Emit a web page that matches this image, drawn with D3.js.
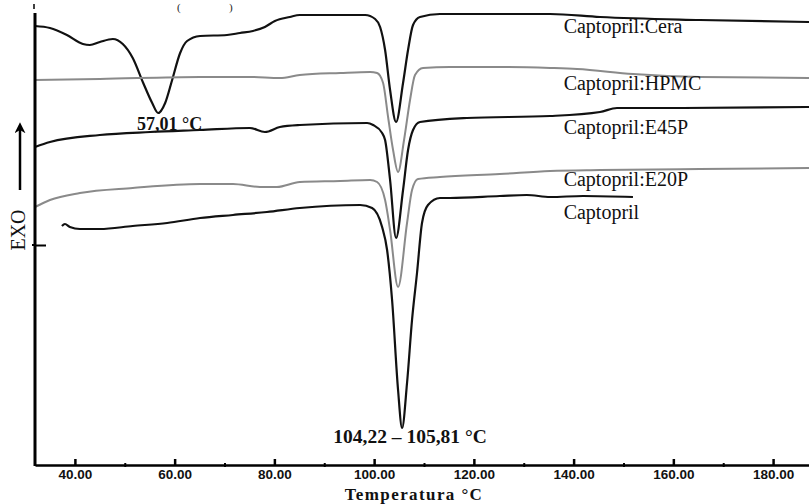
<!DOCTYPE html>
<html>
<head>
<meta charset="utf-8">
<script src="https://cdn.jsdelivr.net/npm/d3@7"></script>
<style>
  html, body { margin: 0; padding: 0; background: #fff; }
  svg { display: block; }
</style>
</head>
<body>
<svg id="chart" width="809" height="504"></svg>
<script>
// ---- Data (temperature °C, heat flow in arbitrary units) ----
const xTicks = [40, 60, 80, 100, 120, 140, 160, 180];
const xMinorTicks = [50, 70, 90, 110, 130, 150, 170];
const yTicks = [22];

const seriesNames = ["Captopril:Cera", "Captopril:HPMC", "Captopril:E45P", "Captopril:E20P", "Captopril"];
const seriesColors = ["#111111", "#8a8a8a", "#111111", "#8a8a8a", "#111111"];

const ceraT = [32.0, 35.0, 38.4, 41.6, 43.0, 45.0, 47.6, 49.6, 51.6, 53.7, 55.5, 56.7, 58.1, 59.5, 61.1, 62.5, 65.1, 70.5, 73.1, 75.7, 78.1, 80.1, 83.1, 85.1, 93.2, 98.2, 100.2, 101.2, 102.2, 103.2, 104.4, 105.8, 106.8, 107.8, 109.2, 113.2, 135.3, 145.3, 165.3, 187.2];
const ceraV = [43.9, 43.7, 43.0, 42.1, 42.0, 42.3, 42.6, 42.1, 40.7, 38.2, 36.2, 35.2, 36.2, 38.5, 41.2, 42.4, 42.9, 43.0, 43.2, 43.4, 43.8, 44.4, 44.8, 45.0, 45.0, 45.0, 44.6, 43.8, 41.5, 37.5, 34.3, 38.2, 41.5, 44.0, 44.8, 45.1, 45.1, 44.8, 44.5, 44.3];

const hpmcT = [32.0, 45.0, 65.1, 75.1, 81.1, 85.1, 93.2, 99.2, 100.6, 101.8, 102.8, 103.8, 104.8, 106.0, 107.2, 108.2, 109.8, 115.2, 125.2, 135.3, 140.7, 151.9, 165.3, 187.2];
const hpmcV = [38.5, 38.6, 38.8, 38.8, 38.7, 39.0, 39.2, 39.3, 39.2, 38.2, 34.8, 31.5, 29.3, 32.5, 36.5, 39.0, 39.7, 39.8, 39.8, 39.7, 39.6, 39.1, 38.8, 38.7];

const e45pT = [32.0, 35.0, 45.0, 55.1, 65.1, 75.1, 78.1, 81.1, 85.1, 98.6, 99.8, 101.6, 102.2, 103.2, 104.4, 105.8, 106.8, 107.8, 109.2, 118.6, 135.3, 145.3, 148.7, 161.9, 187.2];
const e45pV = [31.8, 32.3, 33.0, 33.3, 33.5, 33.7, 33.3, 33.8, 34.0, 34.2, 34.0, 33.2, 32.5, 28.5, 22.7, 27.5, 31.5, 33.5, 34.3, 34.7, 34.9, 35.3, 35.7, 35.7, 35.8];

const e20pT = [32.0, 35.0, 41.0, 51.6, 65.1, 71.7, 77.1, 80.5, 85.1, 93.2, 99.2, 100.6, 102.2, 103.2, 104.8, 106.6, 107.6, 108.8, 113.2, 125.2, 135.3, 145.3, 165.3, 187.2];
const e20pV = [25.8, 26.5, 27.2, 27.7, 28.1, 28.1, 27.8, 27.8, 28.3, 28.4, 28.5, 28.3, 26.5, 23.5, 17.8, 24.2, 27.5, 28.6, 28.8, 29.1, 29.4, 29.5, 29.6, 29.7];

const captoT = [37.4, 38.0, 39.0, 41.0, 45.0, 51.6, 58.5, 65.1, 71.7, 78.5, 85.1, 97.2, 99.6, 101.6, 102.6, 103.6, 104.8, 105.6, 106.6, 107.6, 108.6, 109.6, 110.8, 113.2, 115.2, 125.2, 130.6, 135.3, 141.9, 151.9];
const captoV = [23.9, 24.1, 23.8, 23.6, 23.6, 23.9, 24.2, 24.7, 25.0, 25.3, 25.7, 26.0, 25.7, 23.8, 21.5, 16.5, 7.5, 3.7, 8.2, 14.5, 19.2, 24.2, 26.0, 26.7, 26.7, 26.9, 27.0, 26.8, 26.9, 26.8];

// label anchor values (temperature, heat-flow) for the series names
const labelT = [138.0, 138.0, 138.0, 138.0, 138.0];
const labelV = [43.2, 37.5, 33.1, 27.9, 24.6];

// annotations
const peakLabels = ["57,01 °C", "104,22 – 105,81 °C"];
const peakLabelT = [59.0, 107.2];
const peakLabelV = [33.5, 2.2];

const xTitle = "Temperatura °C";
const yTitle = "EXO";

// ---- Build ----
const svg = d3.select("#chart");

const x = d3.scaleLinear().domain([32, 187.2]).range([35, 809]);
const y = d3.scaleLinear().domain([0, 46]).range([465, 5]);

const serif = '"Liberation Serif", "Times New Roman", serif';
const sans = '"Liberation Sans", Arial, sans-serif';

const allT = [ceraT, hpmcT, e45pT, e20pT, captoT];
const allV = [ceraV, hpmcV, e45pV, e20pV, captoV];

const line = d3.line()
  .x(d => x(d[0]))
  .y(d => y(d[1]))
  .curve(d3.curveMonotoneX);

// series lines
allT.forEach((ts, i) => {
  const pts = ts.map((t, j) => [t, allV[i][j]]);
  svg.append("path")
    .datum(pts)
    .attr("fill", "none")
    .attr("stroke", seriesColors[i])
    .attr("stroke-width", i % 2 === 1 ? 2 : 2.2)
    .attr("stroke-linejoin", "round")
    .attr("d", line);
});

// series labels
seriesNames.forEach((name, i) => {
  svg.append("text")
    .attr("x", x(labelT[i]))
    .attr("y", y(labelV[i]))
    .attr("font-family", serif)
    .attr("font-size", 20)
    .attr("fill", "#111")
    .text(name);
});

// X axis (major ticks upward, labels below)
const xAxis = d3.axisBottom(x)
  .tickValues(xTicks)
  .tickFormat(d3.format(".2f"))
  .tickSizeInner(-6)
  .tickSizeOuter(0)
  .tickPadding(4);

const gx = svg.append("g")
  .attr("transform", `translate(0,${y(0)})`)
  .call(xAxis);
gx.select(".domain").attr("stroke", "#000").attr("stroke-width", 2.5);
gx.selectAll(".tick line").attr("stroke", "#000").attr("stroke-width", 2.5);
gx.selectAll(".tick text")
  .attr("font-family", sans)
  .attr("font-weight", "bold")
  .attr("font-size", 13.5)
  .attr("fill", "#111");

// minor ticks
const xMinor = d3.axisBottom(x)
  .tickValues(xMinorTicks)
  .tickFormat("")
  .tickSizeInner(4)
  .tickSizeOuter(0);
const gxm = svg.append("g")
  .attr("transform", `translate(0,${y(0) - 2})`)
  .call(xMinor);
gxm.select(".domain").remove();
gxm.selectAll(".tick line").attr("stroke", "#000").attr("stroke-width", 2);

// Y axis
const yAxis = d3.axisRight(y)
  .tickValues(yTicks)
  .tickFormat("")
  .tickSizeInner(11)
  .tickSizeOuter(0);
const gy = svg.append("g")
  .attr("transform", `translate(${x(32)},0)`)
  .call(yAxis);
gy.select(".domain").remove();
gy.selectAll(".tick line").attr("stroke", "#000").attr("stroke-width", 2);
gy.append("line")
  .attr("x1", 0).attr("x2", 0)
  .attr("y1", y(0) + 1).attr("y2", y(45.2))
  .attr("stroke", "#000").attr("stroke-width", 3);
gy.append("line")
  .attr("x1", -3).attr("x2", 0)
  .attr("y1", y(yTicks[0])).attr("y2", y(yTicks[0]))
  .attr("stroke", "#000").attr("stroke-width", 2);
// tiny mark above the axis top
gy.append("line")
  .attr("x1", -1).attr("x2", -1)
  .attr("y1", y(45.2) - 9).attr("y2", y(45.2) - 4)
  .attr("stroke", "#000").attr("stroke-width", 1.5);

// peak annotations
peakLabels.forEach((txt, i) => {
  svg.append("text")
    .attr("x", x(peakLabelT[i]))
    .attr("y", y(peakLabelV[i]))
    .attr("text-anchor", "middle")
    .attr("font-family", serif)
    .attr("font-weight", "bold")
    .attr("font-size", i === 0 ? 18 : 19.5)
    .attr("fill", "#111")
    .text(txt);
});

// X title
svg.append("text")
  .attr("x", (x(100) + x(120)) / 2 - 10)
  .attr("y", 500)
  .attr("text-anchor", "middle")
  .attr("font-family", serif)
  .attr("font-weight", "bold")
  .attr("font-size", 17)
  .attr("letter-spacing", 1.4)
  .attr("fill", "#111")
  .text(xTitle);

// Y title "EXO" with upward arrow
svg.append("text")
  .attr("transform", `translate(25,230) rotate(-90)`)
  .attr("text-anchor", "middle")
  .attr("font-family", serif)
  .attr("font-size", 20)
  .attr("fill", "#111")
  .text(yTitle);

svg.append("defs").append("marker")
  .attr("id", "arrowhead")
  .attr("viewBox", "0 0 10 10")
  .attr("refX", 3).attr("refY", 5)
  .attr("markerUnits", "userSpaceOnUse")
  .attr("markerWidth", 11).attr("markerHeight", 11)
  .attr("orient", "auto")
  .append("path")
  .attr("d", "M0,0 L10,5 L0,10 L3,5 Z")
  .attr("fill", "#000");

svg.append("line")
  .attr("x1", 20).attr("x2", 20)
  .attr("y1", 190).attr("y2", 130)
  .attr("stroke", "#000").attr("stroke-width", 2.5)
  .attr("marker-end", "url(#arrowhead)");

// small unit brackets at the top
svg.append("text").attr("x", 177).attr("y", 11)
  .attr("font-family", serif).attr("font-size", 11).attr("fill", "#222").text("(");
svg.append("text").attr("x", 229).attr("y", 11)
  .attr("font-family", serif).attr("font-size", 11).attr("fill", "#222").text(")");
</script>
</body>
</html>
